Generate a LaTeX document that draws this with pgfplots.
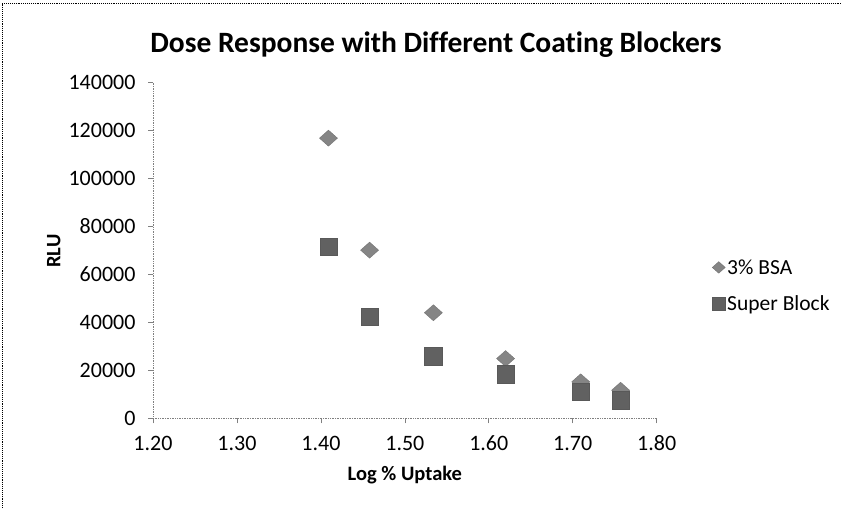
\documentclass[border=0pt]{standalone}
\usepackage{pgfplots}
\pgfplotsset{compat=1.18}
\usepackage{fontspec}
\setmainfont{Carlito}[Ligatures=NoCommon]

\begin{document}
\begin{tikzpicture}[x=1pt,y=1pt]
\useasboundingbox (0,0) rectangle (841,508);
% dotted frame around the chart area (left and top edges)
\draw[densely dotted, line width=0.9pt] (2,0) -- (2,505) -- (841,505);
% chart title
\node[font=\fontsize{29.5}{34}\selectfont\bfseries] at (436,463) {Dose Response with Different Coating Blockers};
\begin{axis}[
  at={(153pt,89.7pt)}, anchor=south west,
  scale only axis, width=503.7pt, height=335.8pt,
  xmin=1.2, xmax=1.8, ymin=0, ymax=140000,
  xtick={1.2,1.3,1.4,1.5,1.6,1.7,1.8},
  xticklabels={1.20,1.30,1.40,1.50,1.60,1.70,1.80},
  ytick={0,20000,40000,60000,80000,100000,120000,140000},
  yticklabels={0,20000,40000,60000,80000,100000,120000,140000},
  scaled ticks=false,
  axis x line*=bottom, axis y line*=left,
  axis line style={densely dotted, gray, line width=0.7pt, -},
  tick style={gray, line width=0.7pt},
  tick align=outside, major tick length=5pt,
  xticklabel style={font=\fontsize{22}{26}\selectfont, yshift=-9pt},
  yticklabel style={font=\fontsize{22}{26}\selectfont, xshift=-9pt},
  xlabel={Log \% Uptake}, ylabel={RLU},
  xlabel style={font=\fontsize{20.5}{24}\selectfont\bfseries,
    at={(axis description cs:0.5,-0.168)}, anchor=center},
  ylabel style={font=\fontsize{20.5}{24}\selectfont\bfseries,
    at={(axis description cs:-0.197,0.498)}, anchor=center},
  legend cell align=left,
  legend style={draw=none, fill=none, font=\fontsize{21.5}{25}\selectfont,
    at={(axis description cs:1.104,0.395)}, anchor=west, row sep=16pt},
  legend image post style={/tikz/every mark/.append style={scale=0.72}},
  clip=false,
]
\addplot[only marks, mark=diamond*, mark size=8pt,
  mark options={xscale=1.5, fill=black!48, draw=black!55}]
  coordinates {(1.409,116800) (1.458,70100) (1.534,44000)
               (1.620,24900) (1.7095,15200) (1.757,11700)};
\addlegendentry{3\% BSA}
\addplot[only marks, mark=square*, mark size=8.7pt,
  mark options={fill=black!62, draw=black!65}]
  coordinates {(1.409,71500) (1.458,42300) (1.534,25900)
               (1.620,18400) (1.7095,11000) (1.757,7500)};
\addlegendentry{Super Block}
\end{axis}
\end{tikzpicture}
\end{document}
